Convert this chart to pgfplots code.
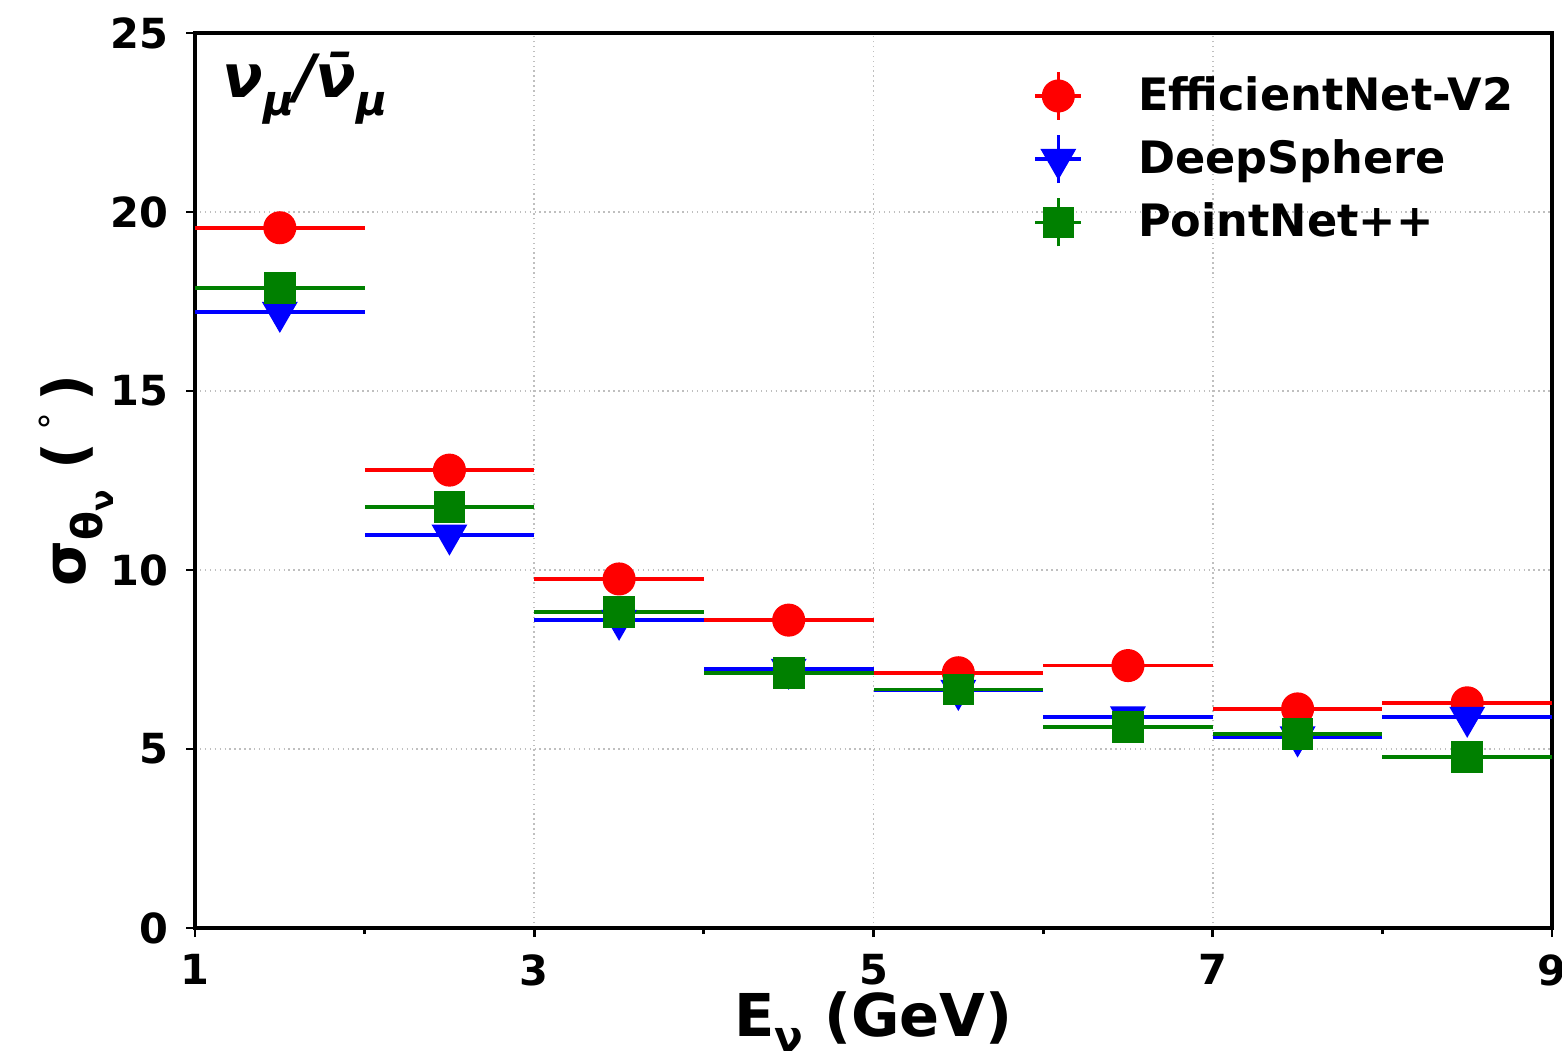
\documentclass[border=0pt]{standalone}
\usepackage{pgfplots}
\pgfplotsset{compat=1.18}
\usepackage{pgfplotstable}
\usepackage{fontspec}
\setmainfont{DejaVu Sans}
\usetikzlibrary{calc}
\definecolor{mplgreen}{RGB}{0,128,0}

\pgfplotstableread{
x    xe   r     b     g
1.5  0.5  19.56 17.20 17.87
2.5  0.5  12.79 10.98 11.76
3.5  0.5  9.75  8.60  8.83
4.5  0.5  8.60  7.23  7.12
5.5  0.5  7.13  6.64  6.66
6.5  0.5  7.33  5.90  5.62
7.5  0.5  6.12  5.34  5.42
8.5  0.5  6.29  5.89  4.77
}\datatab

\begin{document}
\begin{tikzpicture}
\begin{axis}[
  width=13.57cm, height=8.95cm, scale only axis,
  xmin=1, xmax=9, ymin=0, ymax=25,
  xtick={1,3,5,7,9}, minor xtick={2,4,6,8},
  ytick={0,5,10,15,20,25},
  tick align=outside, xtick pos=bottom, ytick pos=left,
  major tick length=0.09cm, minor tick length=0.06cm,
  grid=major, grid style={black!25, densely dotted, line width=0.5pt},
  axis line style={line width=1.3pt},
  tick style={black, line width=0.8pt},
  /pgf/number format/assume math mode=true,
  ticklabel style={font=\fontsize{11.8}{13}\selectfont\bfseries},
  xticklabel style={yshift=-0.05cm},
  yticklabel style={xshift=-0.05cm},
  xlabel={E\raisebox{-0.25em}{\fontsize{12}{13}\selectfont ν} (GeV)},
  ylabel={σ\raisebox{-0.3em}{\fontsize{12}{13}\selectfont θ\raisebox{-0.25em}{\fontsize{9}{10}\selectfont ν}} (\,\raisebox{0.5em}{\fontsize{10}{11}\selectfont\mdseries ∘}\,)},
  label style={font=\fontsize{16.8}{18}\selectfont\bfseries},
  xlabel style={at={(axis description cs:0.5,-0.121)}, anchor=base},
  ylabel style={at={(axis description cs:-0.081,0.5)}, anchor=base},
  legend style={draw=none, fill=none, at={(axis description cs:0.985,0.968)}, anchor=north east,
    font=\fontsize{12.7}{14}\selectfont\bfseries, row sep=0.1cm,
    /tikz/every odd column/.append style={column sep=0.48cm}},
  legend cell align=left,
  legend image code/.code={
    \draw[#1, line width=1pt, mark=none] (0cm,0cm)--(0.46cm,0cm) (0.23cm,-0.24cm)--(0.23cm,0.24cm);
    \draw[#1] plot coordinates {(0.23cm,0cm)};
  },
  every axis plot/.append style={only marks},
]
\addplot+[red, mark=*, mark size=4.5pt, mark options={fill=red, draw=red},
  error bars/.cd, x dir=both, x explicit, error mark=none, error bar style={red, line width=1pt}]
  table[x=x, y=r, x error=xe]{\datatab};
\addlegendentry{EfficientNet-V2}
\addplot+[blue, mark=triangle*, mark size=5.5pt, mark options={fill=blue, draw=blue, rotate=180},
  error bars/.cd, x dir=both, x explicit, error mark=none, error bar style={blue, line width=1pt}]
  table[x=x, y=b, x error=xe]{\datatab};
\addlegendentry{DeepSphere}
\addplot+[mplgreen, mark=square*, mark size=4.3pt, mark options={fill=mplgreen, draw=mplgreen},
  error bars/.cd, x dir=both, x explicit, error mark=none, error bar style={mplgreen, line width=1pt}]
  table[x=x, y=g, x error=xe]{\datatab};
\addlegendentry{PointNet++}
\node[anchor=west, font=\fontsize{17}{19}\selectfont\bfseries\itshape] at (axis description cs:0.011,0.938)
  {ν\raisebox{-0.3em}{\fontsize{12}{13}\selectfont μ}/ν̄\raisebox{-0.3em}{\fontsize{12}{13}\selectfont μ}};
\end{axis}
\pgfresetboundingbox
\useasboundingbox ($(current axis.south west)+(-1.95cm,-1.32cm)$) rectangle ($(current axis.north east)+(0.10cm,0.33cm)$);
\end{tikzpicture}
\end{document}
